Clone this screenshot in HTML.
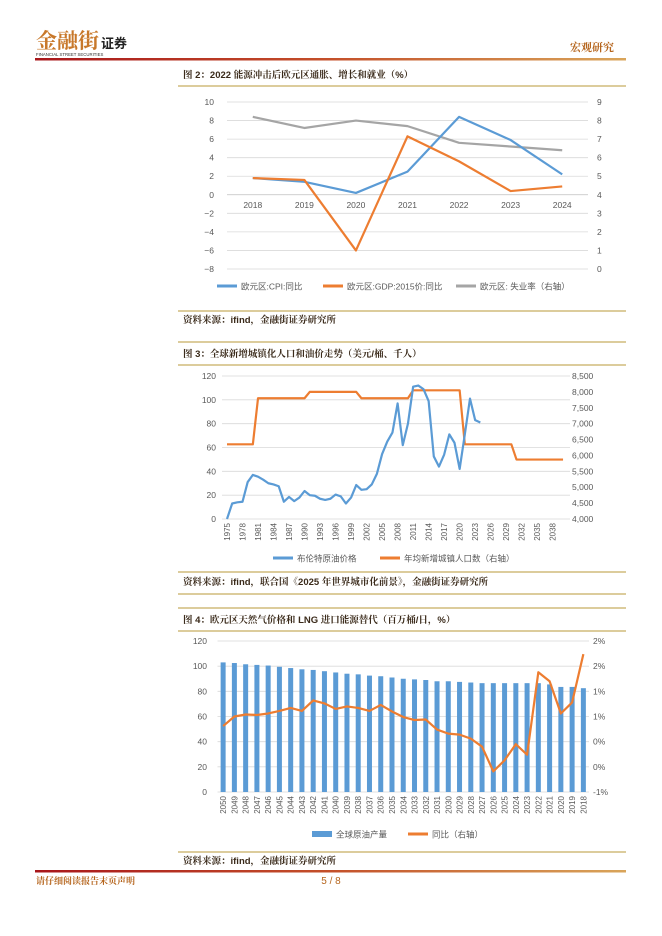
<!DOCTYPE html>
<html><head><meta charset="utf-8">
<style>
html,body{margin:0;padding:0;background:#fff;}
svg{display:block;font-family:"Liberation Sans","Noto Sans CJK SC",sans-serif;}
</style></head>
<body>
<svg id="page" width="662" height="936" viewBox="0 0 662 936" xmlns="http://www.w3.org/2000/svg">
<defs>
<linearGradient id="hdr" x1="0" x2="1" y1="0" y2="0"><stop offset="0" stop-color="#a8161b"/><stop offset="0.5" stop-color="#c4502a"/><stop offset="1" stop-color="#d9a55a"/></linearGradient>
</defs>
<g>
<text x="36" y="48" font-size="21" fill="#c8782a" font-family="'Noto Serif CJK SC',serif" font-weight="bold">金融街</text>
<text x="101" y="48" font-size="13" fill="#222" font-weight="bold" font-family="'Noto Sans CJK SC',sans-serif">证券</text>
<text x="36" y="56" font-size="4.3" fill="#333">FINANCIAL STREET SECURITIES</text>
<text x="614" y="51" font-size="11" fill="#b5651d" text-anchor="end" font-family="'Noto Serif CJK SC',serif" font-weight="bold">宏观研究</text>
<rect x="35" y="58" width="591" height="2.5" fill="url(#hdr)"/>
</g>
<g font-family="'Liberation Sans','Noto Serif CJK SC',serif" font-size="9.5" font-weight="bold" fill="#3a2a1a">
<text x="183" y="78">图 2：2022 能源冲击后欧元区通胀、增长和就业（%）</text>
<line x1="178" y1="86" x2="626" y2="86" stroke="#b89a3a" stroke-width="1"/>
<line x1="178" y1="311" x2="626" y2="311" stroke="#b89a3a" stroke-width="1"/>
<text x="183" y="323">资料来源：ifind，金融街证券研究所</text>
<line x1="178" y1="342" x2="626" y2="342" stroke="#b89a3a" stroke-width="1"/>
<text x="183" y="357">图 3：全球新增城镇化人口和油价走势（美元/桶、千人）</text>
<line x1="178" y1="365" x2="626" y2="365" stroke="#b89a3a" stroke-width="1"/>
<line x1="178" y1="572" x2="626" y2="572" stroke="#b89a3a" stroke-width="1"/>
<text x="183" y="585">资料来源：ifind，联合国《2025 年世界城市化前景》，金融街证券研究所</text>
<line x1="178" y1="594" x2="626" y2="594" stroke="#b89a3a" stroke-width="1"/>
<line x1="178" y1="608" x2="626" y2="608" stroke="#b89a3a" stroke-width="1"/>
<text x="183" y="623">图 4：欧元区天然气价格和 LNG 进口能源替代（百万桶/日，%）</text>
<line x1="178" y1="631" x2="626" y2="631" stroke="#b89a3a" stroke-width="1"/>
<line x1="178" y1="852" x2="626" y2="852" stroke="#b89a3a" stroke-width="1"/>
<text x="183" y="864">资料来源：ifind，金融街证券研究所</text>
</g>
<g>
<rect x="35" y="870" width="591" height="2.5" fill="url(#hdr)"/>
<text x="36" y="884" font-size="9" fill="#b5651d" font-weight="bold" font-family="'Noto Serif CJK SC',serif">请仔细阅读报告末页声明</text>
<text x="331" y="884" font-size="10" fill="#b5651d" text-anchor="middle">5 / 8</text>
</g>
<g id="c1"></g>
<g id="c2"></g>
<g id="c3"></g>
</svg>
<script>
const NS='http://www.w3.org/2000/svg';
const BLUE='#5B9BD5',ORANGE='#ED7D31',GRAY='#A5A5A5',GRID='#d9d9d9',TXT='#595959';
function mk(parent,tag,attrs,txt){const e=document.createElementNS(NS,tag);for(const k in attrs)e.setAttribute(k,attrs[k]);if(txt!==undefined)e.textContent=txt;parent.appendChild(e);return e;}

// ---- Chart 1 data ----
const c1Years=['2018','2019','2020','2021','2022','2023','2024'];
const c1Cpi=[1.8,1.4,0.2,2.5,8.4,5.9,2.2];
const c1Gdp=[1.8,1.6,-6.0,6.3,3.6,0.4,0.9];
const c1Unemp=[8.2,7.6,8.0,7.7,6.8,6.6,6.4];
const c1LeftTicks=[10,8,6,4,2,0,-2,-4,-6,-8];
const c1RightTicks=[9,8,7,6,5,4,3,2,1,0];

// ---- Chart 2 data ----
const c2Start=1975, c2End=2040;
const c2Brent=[0,13,14,14.5,31,37,35.5,33,30,29,27.5,14.5,18.5,15,18,23.5,20,19.5,17,16,17,20.5,19,13,18,28.5,24.5,25,29,38,54.5,65,72.5,97,62,80,111,112,109,99,52.5,44,54,71,64,42,71,101,83,81];
const c2Urban=[6350,6350,6350,6350,6350,6350,7800,7800,7800,7800,7800,7800,7800,7800,7800,7800,8000,8000,8000,8000,8000,8000,8000,8000,8000,8000,7800,7800,7800,7800,7800,7800,7800,7800,7800,7800,8050,8050,8050,8050,8050,8050,8050,8050,8050,8050,6350,6350,6350,6350,6350,6350,6350,6350,6350,6350,5870,5870,5870,5870,5870,5870,5870,5870,5870,5870];
const c2LeftTicks=[120,100,80,60,40,20,0];
const c2RightTicks=['8,500','8,000','7,500','7,000','6,500','6,000','5,500','5,000','4,500','4,000'];

// ---- Chart 3 data ----
const c3Years=['2050','2049','2048','2047','2046','2045','2044','2043','2042','2041','2040','2039','2038','2037','2036','2035','2034','2033','2032','2031','2030','2029','2028','2027','2026','2025','2024','2023','2022','2021','2020','2019','2018'];
const c3Prod=[103,102.5,101.5,101,100.5,99.5,98.5,97.5,97,96,95,94,93.5,92.5,92,91,90,89.5,89,88,88,87.5,87,86.5,86.5,86.5,86.5,86.5,86.5,85.5,83.5,83.5,82.5];
const c3Yoy=[0.81,1.0,1.04,1.03,1.06,1.11,1.17,1.11,1.32,1.26,1.15,1.2,1.17,1.11,1.23,1.1,0.99,0.93,0.94,0.74,0.66,0.64,0.56,0.4,-0.09,0.13,0.45,0.24,1.88,1.7,1.06,1.28,2.24];
const c3LeftTicks=[120,100,80,60,40,20,0];
const c3RightTicks=['2%','2%','1%','1%','0%','0%','-1%'];

function legend(g,x,y,kind,color,label){
  if(kind==='bar'){const r=mk(g,'rect',{x:x,y:y-3,width:20,height:6,fill:color});}
  else{const l=mk(g,'line',{x1:x,y1:y,x2:x+20,y2:y,stroke:color,'stroke-width':3});}
  const t=mk(g,'text',{x:x+24,y:y+3.5,'font-size':8.5,fill:TXT},label);
  
  
}
function polyline(g,pts,color,name){
  const p=mk(g,'polyline',{points:pts.map(q=>q.join(',')).join(' '),fill:'none',stroke:color,'stroke-width':2.2,'stroke-linejoin':'round'});
  
  
}

// Chart 1
(function(){
  const g=document.getElementById('c1');
  const x0=227,x1=588,yTop=102,yBot=269;
  const ly=v=>yTop+(10-v)/18*(yBot-yTop);
  const ry=v=>yTop+(9-v)/9*(yBot-yTop);
  const step=(x1-x0)/c1Years.length;
  const cx=i=>x0+step*(i+0.5);
  c1LeftTicks.forEach(v=>{
    const y=ly(v);
    if(v!==0){const l=mk(g,'line',{x1:x0,y1:y,x2:x1,y2:y,stroke:GRID,'stroke-width':0.8});}
    const t=mk(g,'text',{x:214,y:y+3,'font-size':8.5,fill:TXT,'text-anchor':'end'},v<0?'−'+(-v):String(v));
    
  });
  c1RightTicks.forEach(v=>{
    const t=mk(g,'text',{x:597,y:ry(v)+3,'font-size':8.5,fill:TXT},String(v));
    
  });
  const zl=mk(g,'line',{x1:x0,y1:ly(0),x2:x1,y2:ly(0),stroke:'#bfbfbf','stroke-width':0.8});
  
  c1Years.forEach((yr,i)=>{
    const t=mk(g,'text',{x:cx(i),y:ly(0)+13,'font-size':8.5,fill:TXT,'text-anchor':'middle'},yr);
    
  });
  polyline(g,c1Unemp.map((v,i)=>[cx(i),ry(v)]),GRAY,'unemployment-line');
  polyline(g,c1Cpi.map((v,i)=>[cx(i),ly(v)]),BLUE,'cpi-line');
  polyline(g,c1Gdp.map((v,i)=>[cx(i),ly(v)]),ORANGE,'gdp-line');
  legend(g,217,286,'line',BLUE,'欧元区:CPI:同比');
  legend(g,323,286,'line',ORANGE,'欧元区:GDP:2015价:同比');
  legend(g,456,286,'line',GRAY,'欧元区: 失业率（右轴）');
})();

// Chart 2
(function(){
  const g=document.getElementById('c2');
  const x0=227,yTop=376,yBot=519,pxYear=5.17;
  const ly=v=>yBot-v/120*(yBot-yTop);
  const ry=v=>yBot-(v-4000)/4500*(yBot-yTop);
  const cx=yr=>x0+(yr-c2Start)*pxYear;
  c2LeftTicks.forEach(v=>{
    const y=ly(v);
    const l=mk(g,'line',{x1:x0-5,y1:y,x2:570,y2:y,stroke:GRID,'stroke-width':0.8});
    
    const t=mk(g,'text',{x:216,y:y+3,'font-size':8.5,fill:TXT,'text-anchor':'end'},String(v));
    
  });
  c2RightTicks.forEach((lab,i)=>{
    const v=8500-i*500;
    const t=mk(g,'text',{x:572,y:ry(v)+3,'font-size':8.5,fill:TXT},lab);
    
  });
  for(let yr=c2Start;yr<=2038;yr+=3){
    const x=cx(yr);
    const t=mk(g,'text',{x:x+3,y:523,'font-size':8,fill:TXT,'text-anchor':'end',transform:`rotate(-90 ${x+3} 523)`},String(yr));
    
  }
  polyline(g,c2Urban.map((v,i)=>[cx(c2Start+i),ry(v)]),ORANGE,'urban-population-line');
  polyline(g,c2Brent.map((v,i)=>[cx(c2Start+i),ly(v)]),BLUE,'brent-price-line');
  legend(g,273,558,'line',BLUE,'布伦特原油价格');
  legend(g,380,558,'line',ORANGE,'年均新增城镇人口数（右轴）');
})();

// Chart 3
(function(){
  const g=document.getElementById('c3');
  const x0=217.5,x1=589,yTop=641,yBot=792;
  const ly=v=>yBot-v/120*(yBot-yTop);
  const ry=v=>yBot-(v+0.5)/3*(yBot-yTop);
  const step=(x1-x0)/c3Years.length;
  const cx=i=>x0+step*(i+0.5);
  c3LeftTicks.forEach(v=>{
    const y=ly(v);
    const l=mk(g,'line',{x1:x0,y1:y,x2:x1,y2:y,stroke:GRID,'stroke-width':0.8});
    
    const t=mk(g,'text',{x:207,y:y+3,'font-size':8.5,fill:TXT,'text-anchor':'end'},String(v));
    
  });
  c3RightTicks.forEach((lab,i)=>{
    const v=2.5-i*0.5;
    const t=mk(g,'text',{x:593,y:ry(v)+3,'font-size':8.5,fill:TXT},lab);
    
  });
  c3Prod.forEach((v,i)=>{
    const r=mk(g,'rect',{x:cx(i)-2.5,y:ly(v),width:5,height:yBot-ly(v),fill:BLUE});
    
    
  });
  c3Years.forEach((yr,i)=>{
    const x=cx(i);
    const t=mk(g,'text',{x:x+3,y:796,'font-size':8,fill:TXT,'text-anchor':'end',transform:`rotate(-90 ${x+3} 796)`},yr);
    
  });
  polyline(g,c3Yoy.map((v,i)=>[cx(i),ry(v)]),ORANGE,'yoy-line');
  legend(g,312,834,'bar',BLUE,'全球原油产量');
  legend(g,408,834,'line',ORANGE,'同比（右轴）');
})();
</script>
</body></html>
